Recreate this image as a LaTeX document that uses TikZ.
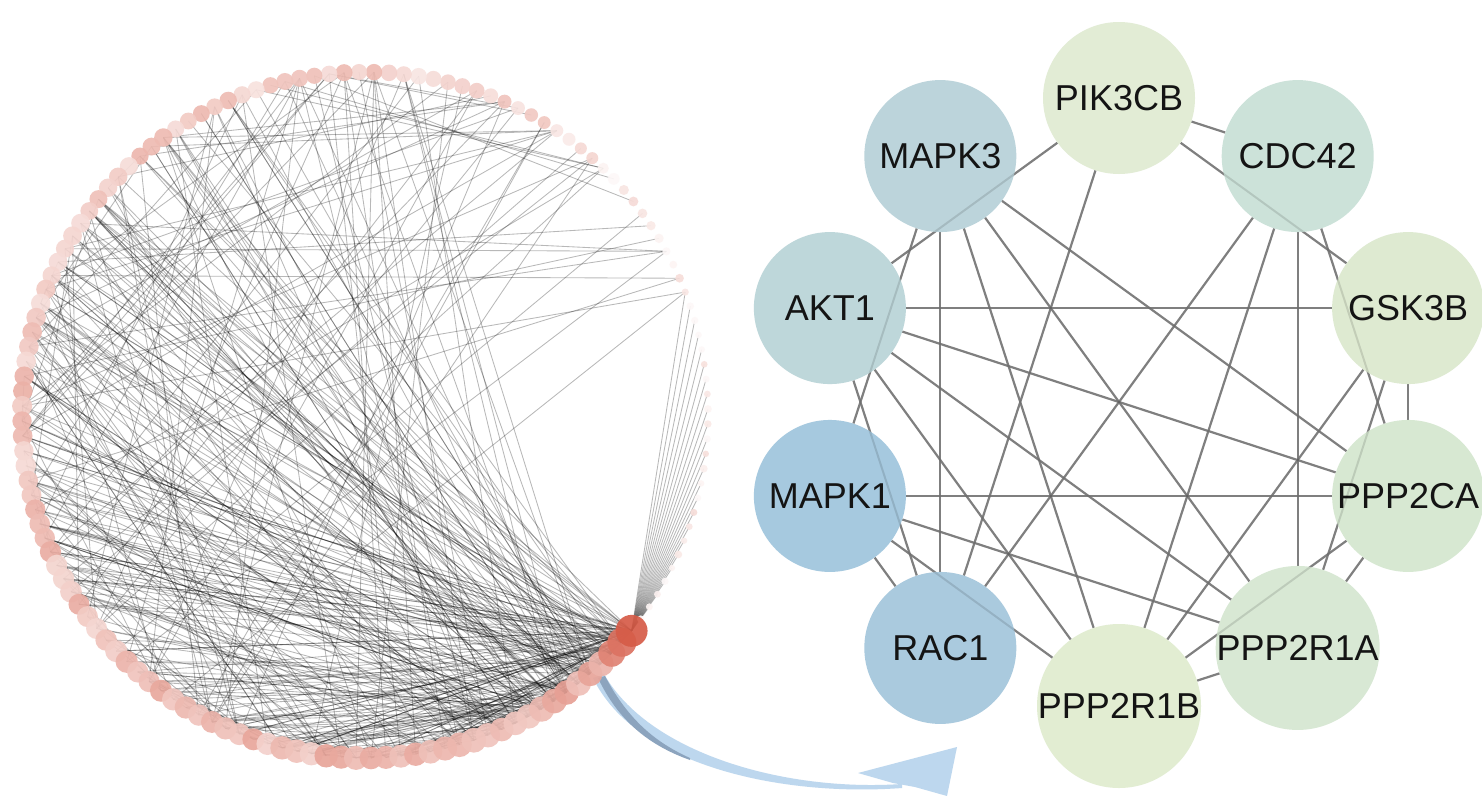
\documentclass[tikz,border=0pt]{standalone}
\usepackage{fontspec}
\setmainfont{Liberation Sans}
\pgfdeclarelayer{bg}
\pgfdeclarelayer{background}
\pgfsetlayers{bg,background,main}
\definecolor{hub}{RGB}{214,92,72}
\definecolor{arrowblue}{RGB}{189,215,238}
\definecolor{arrowdark}{RGB}{140,164,190}
\definecolor{redgegray}{RGB}{145,145,145}
\definecolor{cPIK}{RGB}{226,236,213}
\definecolor{cMAPKiii}{RGB}{188,212,219}
\definecolor{cCDC}{RGB}{204,226,217}
\definecolor{cAKT}{RGB}{190,215,218}
\definecolor{cGSK}{RGB}{222,234,209}
\definecolor{cMAPKi}{RGB}{166,201,223}
\definecolor{cPPCA}{RGB}{215,232,210}
\definecolor{cRAC}{RGB}{170,202,222}
\definecolor{cPPA}{RGB}{216,232,212}
\definecolor{cPPB}{RGB}{226,237,210}
\tikzset{
  ledge/.style={draw=black, draw opacity=0.28, line width=0.85pt},
  lnode/.style={circle, inner sep=0pt, draw=none, fill opacity=0.92},
  rnode/.style={circle, minimum size=152pt, inner sep=0pt, font=\fontsize{36}{40}\selectfont, text=black!92},
  redge/.style={draw=redgegray, line width=2.2pt},
  redgeover/.style={draw=black, draw opacity=0.12, line width=2pt}
}
\begin{document}
\begin{tikzpicture}[x=1pt,y=-1pt]
\useasboundingbox (0,0) rectangle (1482,795);
\begin{pgfonlayer}{bg}
\fill[white] (0,0) rectangle (1482,795);
\end{pgfonlayer}

% ---------------- left circular network ----------------
\pgfmathsetseed{4242}
\foreach \k in {1,...,144}{
  \pgfmathsetmacro{\ang}{39+(\k-1)*2.5}
  \coordinate (p\k) at ([shift={(365,415)}]\ang:343);
}
% fan of node 1 towards the right-hand side
\foreach \jj in {121,...,143}{\draw[ledge] (p1) -- (p\jj);}
% hub edges (towards bottom, left and upper-left)
\foreach \e in {1,...,45}{
  \pgfmathsetmacro{\jj}{int(4+floor(76*rnd))}
  \draw[ledge] (p1) -- (p\jj);
}
\foreach \h/\d in {2/28,3/24,4/14,5/12,6/12,7/10,8/10,9/10,10/10,11/8,12/8}{
  \foreach \e in {1,...,\d}{
    \pgfmathsetmacro{\jj}{int(\h+3+floor((82-\h)*rnd))}
    \draw[ledge] (p\h) -- (p\jj);
  }
}
% edges among bottom, left and top nodes
\foreach \e in {1,...,190}{
  \pgfmathsetmacro{\ii}{int(5+floor(90*rnd*rnd))}
  \pgfmathsetmacro{\jj}{int(5+floor(96*rnd))}
  \ifnum\ii=\jj\relax\else\draw[ledge] (p\ii) -- (p\jj);\fi
}
% edges from the left side to the upper-right nodes
\foreach \e in {1,...,42}{
  \pgfmathsetmacro{\ii}{int(30+floor(62*rnd))}
  \pgfmathsetmacro{\jj}{int(100+floor(22*rnd))}
  \draw[ledge] (p\ii) -- (p\jj);
}

% arrow from the circle to the sub-network
\fill[arrowblue] (593,678) .. controls (635,765) and (780,797) .. (902,788)
  -- (902,784) .. controls (782,792) and (648,752) .. (604,674) -- cycle;
\fill[arrowdark] (598,678) .. controls (618,720) and (648,745) .. (690,760)
  -- (690,758) .. controls (652,741) and (626,716) .. (605,676) -- cycle;
\fill[arrowblue] (858,773) -- (957,747) -- (947,796) -- (915,787) -- (893,783) -- cycle;

% nodes of the circle
\foreach \k in {144,143,...,1}{
  \pgfmathsetmacro{\base}{\k<=100 ? 48-0.2*\k : max(9,28-(\k-100)*0.9)}
  \pgfmathsetmacro{\pp}{int(max(4,min(100,\base+28*(rnd-0.5))))}
  \pgfmathsetmacro{\rr}{(\k<=100 ? 12.8-0.05*\k : max(3.5,8-(\k-100)*0.2))+0.8*(rnd-0.5)}
  \ifnum\k=1 \def\pp{100}\def\rr{16}\fi
  \ifnum\k=2 \def\pp{86}\def\rr{14.5}\fi
  \ifnum\k=3 \def\pp{76}\def\rr{13.5}\fi
  \node[lnode, minimum size={2*\rr pt}, fill=hub!\pp!white] (n\k) at (p\k) {};
}

% ---------------- right network ----------------
\node[rnode, fill=cPIK]     (PIK3CB)  at ([shift={(1119,402)}]-90:304) {PIK3CB};
\node[rnode, fill=cCDC]     (CDC42)   at ([shift={(1119,402)}]-54:304) {CDC42};
\node[rnode, fill=cGSK]     (GSK3B)   at ([shift={(1119,402)}]-18:304) {GSK3B};
\node[rnode, fill=cPPCA]    (PPP2CA)  at ([shift={(1119,402)}]18:304)  {PPP2CA};
\node[rnode, fill=cPPA]     (PPP2R1A) at ([shift={(1119,402)}]54:304)  {PPP2R1A};
\node[rnode, fill=cPPB]     (PPP2R1B) at ([shift={(1119,402)}]90:304)  {PPP2R1B};
\node[rnode, fill=cRAC]     (RAC1)    at ([shift={(1119,402)}]126:304) {RAC1};
\node[rnode, fill=cMAPKi]   (MAPK1)   at ([shift={(1119,402)}]162:304) {MAPK1};
\node[rnode, fill=cAKT]     (AKT1)    at ([shift={(1119,402)}]198:304) {AKT1};
\node[rnode, fill=cMAPKiii] (MAPK3)   at ([shift={(1119,402)}]234:304) {MAPK3};

\def\edgelist{PIK3CB/CDC42, PIK3CB/GSK3B, PIK3CB/AKT1, PIK3CB/RAC1,
  MAPK3/MAPK1, MAPK3/RAC1, MAPK3/PPP2R1B, MAPK3/PPP2R1A, MAPK3/PPP2CA,
  CDC42/RAC1, CDC42/PPP2R1B, CDC42/PPP2R1A, CDC42/PPP2CA,
  AKT1/GSK3B, AKT1/PPP2CA, AKT1/PPP2R1B, AKT1/PPP2R1A, AKT1/RAC1,
  GSK3B/PPP2CA, GSK3B/PPP2R1B, GSK3B/PPP2R1A,
  MAPK1/PPP2CA, MAPK1/PPP2R1A, MAPK1/RAC1, MAPK1/PPP2R1B,
  PPP2CA/PPP2R1A, PPP2CA/PPP2R1B, PPP2R1A/PPP2R1B}
\begin{pgfonlayer}{background}
\foreach \a/\b in \edgelist {\draw[redge] (\a) -- (\b);}
\end{pgfonlayer}
\foreach \a/\b in \edgelist {\draw[redgeover] (\a) -- (\b);}
\end{tikzpicture}
\end{document}
